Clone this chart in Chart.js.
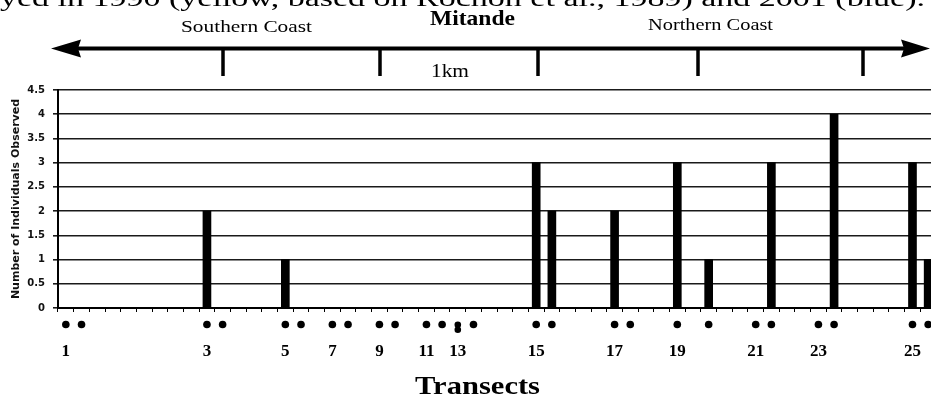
<!DOCTYPE html>
<html>
<head>
<meta charset="utf-8">
<script src="https://cdn.jsdelivr.net/npm/chart.js@4/dist/chart.umd.min.js"></script>
<style>
  html, body { margin: 0; padding: 0; background: #fff; overflow: hidden; }
  #wrap { position: absolute; left: 0; top: 0; width: 940px; height: 400px; }
</style>
</head>
<body>
<div id="wrap"><canvas id="transectChart"></canvas></div>
<script>
// one slot per survey position along the coast (the figure is cut off on the right)
const transectLabels = [
    '1', '', '', '', '', '', '', '',
    '', '3', '', '', '', '', '5', '',
    '', '7', '', '', '9', '', '', '11',
    '', '13', '', '', '', '', '15', '',
    '', '', '', '17', '', '', '', '19',
    '', '', '', '', '21', '', '', '',
    '23', '', '', '', '', '', '25', ''
];

// Number of individuals observed
const observed = [
    0, 0, 0, 0, 0, 0, 0, 0,
    0, 2, 0, 0, 0, 0, 1, 0,
    0, 0, 0, 0, 0, 0, 0, 0,
    0, 0, 0, 0, 0, 0, 3, 2,
    0, 0, 0, 2, 0, 0, 0, 3,
    0, 1, 0, 0, 0, 3, 0, 0,
    0, 4, 0, 0, 0, 0, 3, 1
];

// dots under the axis (2 = stacked pair)
const surveyDots = [
    1, 1, 0, 0, 0, 0, 0, 0,
    0, 1, 1, 0, 0, 0, 1, 1,
    0, 1, 1, 0, 1, 1, 0, 1,
    1, 2, 1, 0, 0, 0, 1, 1,
    0, 0, 0, 1, 1, 0, 0, 1,
    0, 1, 0, 0, 1, 1, 0, 0,
    1, 1, 0, 0, 0, 0, 1, 1
];

const yMin = 0;
const yMax = 4.5;
const yStep = 0.5;

const captionText = 'yed in 1990 (yellow, based on Rochon et al., 1989) and 2001 (blue).';
const kmLabel = '1km';

// draw text squeezed/stretched to fill x0..x1 (the scan is stretched sideways)
function fitText(ctx, text, x0, x1, baseline, font) {
    ctx.save();
    ctx.font = font;
    const w = ctx.measureText(text).width;
    ctx.translate(x0, baseline);
    ctx.scale((x1 - x0) / w, 1);
    ctx.textAlign = 'left';
    ctx.textBaseline = 'alphabetic';
    ctx.fillStyle = '#000';
    ctx.fillText(text, 0, 0);
    ctx.restore();
}

const decorPlugin = {
    id: 'decor',
    afterDraw(chart) {
        const ctx = chart.ctx;
        const xScale = chart.scales.x;

        // survey dots below the axis
        ctx.save();
        ctx.fillStyle = '#000';
        surveyDots.forEach((n, i) => {
            if (!n) return;
            const x = xScale.getPixelForValue(i);
            if (n === 1) {
                ctx.beginPath();
                ctx.arc(x, 324.5, 3.8, 0, Math.PI * 2);
                ctx.fill();
            } else {
                for (let k = 0; k < n; k++) {
                    ctx.beginPath();
                    ctx.arc(x, 324.8 + k * 5, 3.3, 0, Math.PI * 2);
                    ctx.fill();
                }
            }
        });
        ctx.restore();

        // header: caption line cut off at top, place names, km scale
        fitText(ctx, captionText, 0, 925, 5.5, '24px "Liberation Serif"');
        fitText(ctx, 'Mitande', 430, 515, 25, 'bold 22px "Liberation Serif"');
        fitText(ctx, 'Southern Coast', 181, 312, 32, '17px "Liberation Serif"');
        fitText(ctx, 'Northern Coast', 648, 773, 30, '17px "Liberation Serif"');
        fitText(ctx, kmLabel, 431, 469, 77, '19px "Liberation Serif"');
        fitText(ctx, 'Transects', 415, 540, 394, 'bold 26px "Liberation Serif"');

        ctx.save();
        ctx.strokeStyle = '#000';
        ctx.fillStyle = '#000';
        ctx.lineWidth = 4;
        ctx.beginPath();
        ctx.moveTo(76, 48.5);
        ctx.lineTo(906, 48.5);
        ctx.stroke();
        ctx.beginPath();
        ctx.moveTo(51, 48.5);
        ctx.lineTo(81, 39.5);
        ctx.lineTo(78, 48.5);
        ctx.lineTo(81, 57.5);
        ctx.closePath();
        ctx.fill();
        ctx.beginPath();
        ctx.moveTo(930, 48.5);
        ctx.lineTo(901, 39.5);
        ctx.lineTo(904, 48.5);
        ctx.lineTo(901, 57.5);
        ctx.closePath();
        ctx.fill();
        ctx.lineWidth = 3.5;
        [223, 380, 538, 698, 863].forEach(x => {
            ctx.beginPath();
            ctx.moveTo(x, 48);
            ctx.lineTo(x, 76);
            ctx.stroke();
        });
        ctx.restore();
    }
};

const ctx = document.getElementById('transectChart').getContext('2d');
new Chart(ctx, {
    type: 'bar',
    data: {
        labels: transectLabels,
        datasets: [{
            label: 'Number of Individuals Observed',
            data: observed,
            backgroundColor: '#000',
            borderWidth: 0,
            barThickness: 8
        }]
    },
    options: {
        responsive: true,
        maintainAspectRatio: false,
        animation: false,
        layout: { padding: { top: 90, right: 4, bottom: 0, left: 0 } },
        plugins: {
            legend: { display: false },
            tooltip: { enabled: false }
        },
        scales: {
            x: {
                grid: {
                    offset: true,
                    drawOnChartArea: false,
                    drawTicks: true,
                    tickLength: 4,
                    color: '#000',
                    lineWidth: 1
                },
                border: { display: true, color: '#000', width: 2 },
                ticks: {
                    autoSkip: false,
                    maxRotation: 0,
                    minRotation: 0,
                    padding: 29,
                    color: '#000',
                    font: { family: 'Liberation Serif', size: 17, weight: 'bold' }
                },
                afterFit: (s) => {
                    s.height = 92;
                    s.paddingLeft = 0;
                    s.paddingRight = 0;
                }
            },
            y: {
                min: yMin,
                max: yMax,
                grid: { color: '#1a1a1a', lineWidth: 1.6, tickLength: 5 },
                border: { display: true, color: '#000', width: 2 },
                ticks: {
                    stepSize: yStep,
                    padding: 8,
                    color: '#111',
                    font: { family: 'DejaVu Sans', size: 10, weight: 'bold' },
                    callback: (v) => String(v)
                },
                title: {
                    display: true,
                    text: 'Number of Individuals Observed',
                    color: '#111',
                    padding: { top: 10, bottom: 0 },
                    font: { family: 'DejaVu Sans', size: 11, weight: 'bold' }
                },
                afterFit: (s) => { s.width = 58; }
            }
        }
    },
    plugins: [decorPlugin]
});
</script>
</body>
</html>
